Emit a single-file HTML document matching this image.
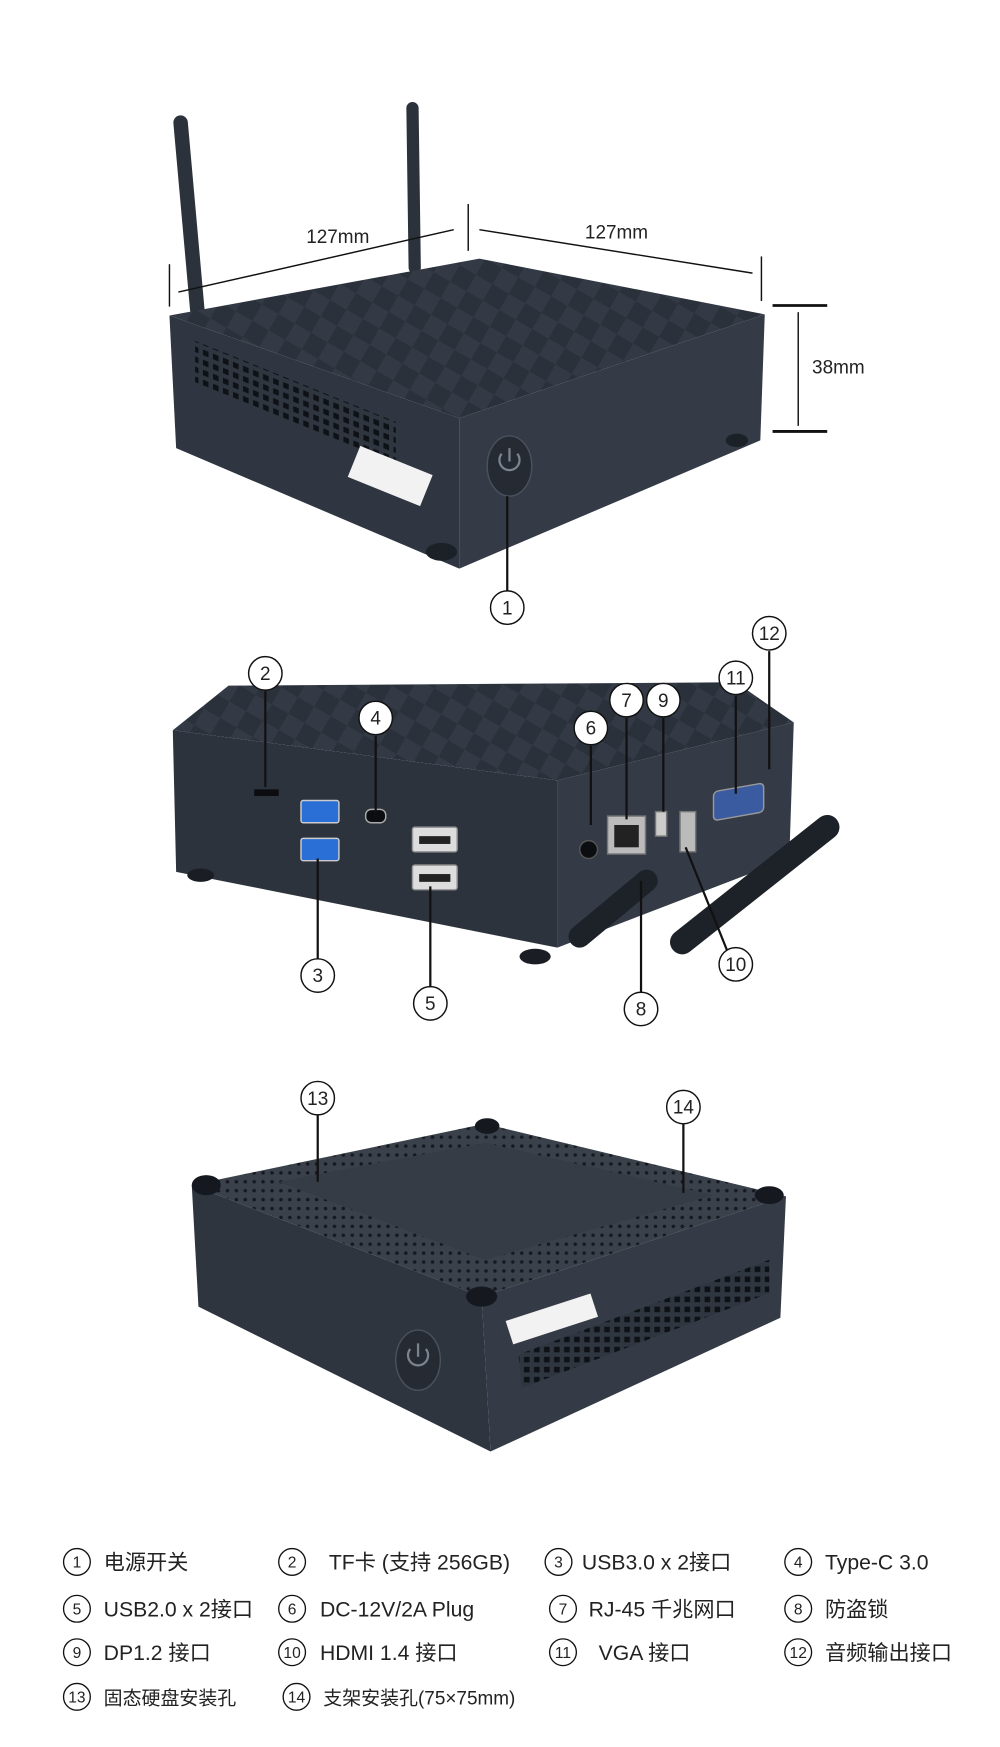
<!DOCTYPE html>
<html><head><meta charset="utf-8"><style>
html,body{margin:0;padding:0;background:#fff}
svg{display:block}
text{font-family:"Liberation Sans","Noto Sans CJK SC",sans-serif;fill:#222}
</style></head><body>
<svg width="1000" height="1747" viewBox="0 0 897 1567" preserveAspectRatio="none" xmlns="http://www.w3.org/2000/svg">
<defs>
<pattern id="diam" width="34" height="34" patternUnits="userSpaceOnUse" patternTransform="rotate(30)">
<rect width="34" height="34" fill="#333a45"/><rect width="17" height="17" fill="#2b313b"/><rect x="17" y="17" width="17" height="17" fill="#2b313b"/></pattern>
<pattern id="vent" width="9" height="9" patternUnits="userSpaceOnUse"><rect width="9" height="9" fill="#2f3640"/><rect x="2" y="2" width="5" height="5" fill="#0e1116"/></pattern>
<pattern id="dots" width="8" height="8" patternUnits="userSpaceOnUse"><rect width="8" height="8" fill="#3a414b"/><circle cx="4" cy="4" r="1.6" fill="#15191f"/></pattern>
</defs>
<g stroke="#111" fill="none" stroke-width="1.3">
<line x1="162" y1="110" x2="177" y2="278" stroke="#2c323b" stroke-width="13" stroke-linecap="round"/>
<line x1="370" y1="97" x2="372" y2="240" stroke="#2c323b" stroke-width="11" stroke-linecap="round"/>
<polygon points="152,283 430,232 686,282 412,375" fill="url(#diam)" stroke="none"/>
<polygon points="152,283 412,375 412,510 158,402" fill="#2f3641" stroke="none"/>
<polygon points="412,375 686,282 682,395 412,510" fill="#343b46" stroke="none"/>
<rect x="175" y="330" width="180" height="40" fill="url(#vent)" stroke="none" transform="skewY(22) translate(0,-95)"/>
<rect x="315" y="412" width="70" height="30" fill="#f2f2f2" stroke="none" transform="rotate(22 350 427)"/>
<ellipse cx="396" cy="495" rx="14" ry="8" fill="#1c2027" stroke="none"/>
<ellipse cx="661" cy="395" rx="10" ry="6" fill="#1c2027" stroke="none"/>
<ellipse cx="457" cy="418" rx="20" ry="27" fill="#262b33" stroke="#4a515c"/>
<path d="M450 407 a9 9 0 1 0 14 0 M457 402 v12" stroke="#7a838f" stroke-width="2"/>
<line x1="152" y1="237" x2="152" y2="275"/>
<line x1="160" y1="262" x2="407" y2="206"/>
<line x1="420" y1="183" x2="420" y2="225"/>
<line x1="430" y1="206" x2="675" y2="245"/>
<line x1="683" y1="230" x2="683" y2="270"/>
<line x1="693" y1="274" x2="742" y2="274" stroke-width="2.5"/>
<line x1="693" y1="387" x2="742" y2="387" stroke-width="2.5"/>
<line x1="716" y1="280" x2="716" y2="382"/>
<line x1="455" y1="445" x2="455" y2="530" stroke-width="2"/>
<circle cx="455" cy="545" r="15" fill="#fff"/>
<polygon points="155,655 205,615 660,612 712,648 500,700" fill="url(#diam)" stroke="none"/>
<polygon points="155,655 500,700 500,850 158,782" fill="#2d333d" stroke="none"/>
<polygon points="500,700 712,648 708,770 500,850" fill="#343b46" stroke="none"/>
<ellipse cx="180" cy="785" rx="12" ry="6" fill="#1a1e24" stroke="none"/>
<ellipse cx="480" cy="858" rx="14" ry="7" fill="#1a1e24" stroke="none"/>
<rect x="228" y="708" width="22" height="6" fill="#0b0d10" stroke="none"/>
<rect x="270" y="718" width="34" height="20" rx="2" fill="#2a6fd6" stroke="#ccc"/>
<rect x="270" y="752" width="34" height="20" rx="2" fill="#2a6fd6" stroke="#ccc"/>
<rect x="328" y="726" width="18" height="12" rx="5" fill="#0b0d10" stroke="#aaa"/>
<rect x="370" y="742" width="40" height="22" rx="2" fill="#ddd" stroke="#999"/>
<rect x="370" y="776" width="40" height="22" rx="2" fill="#ddd" stroke="#999"/>
<rect x="376" y="750" width="28" height="7" fill="#222" stroke="none"/>
<rect x="376" y="784" width="28" height="7" fill="#222" stroke="none"/>
<circle cx="528" cy="762" r="8" fill="#0b0d10" stroke="#555"/>
<rect x="545" y="732" width="34" height="34" fill="#bbb" stroke="#777"/>
<rect x="551" y="740" width="22" height="20" fill="#222" stroke="none"/>
<rect x="588" y="728" width="10" height="22" fill="#ccc" stroke="#777"/>
<rect x="610" y="728" width="14" height="36" fill="#bbb" stroke="#777"/>
<rect x="640" y="708" width="45" height="26" rx="4" fill="#3a5ba0" stroke="#999" transform="skewY(-10) translate(0,115)"/>
<line x1="520" y1="840" x2="580" y2="790" stroke="#1d2228" stroke-width="20" stroke-linecap="round"/>
<line x1="612" y1="845" x2="742" y2="742" stroke="#1d2228" stroke-width="22" stroke-linecap="round"/>
<line x1="238" y1="620" x2="238" y2="706" stroke-width="2"/><circle cx="238" cy="604" r="15" fill="#fff"/>
<line x1="337" y1="660" x2="337" y2="730" stroke-width="2"/><circle cx="337" cy="644" r="15" fill="#fff"/>
<line x1="285" y1="770" x2="285" y2="860" stroke-width="2"/><circle cx="285" cy="875" r="15" fill="#fff"/>
<line x1="386" y1="795" x2="386" y2="885" stroke-width="2"/><circle cx="386" cy="900" r="15" fill="#fff"/>
<line x1="530" y1="669" x2="530" y2="740" stroke-width="2"/><circle cx="530" cy="653" r="15" fill="#fff"/>
<line x1="562" y1="644" x2="562" y2="735" stroke-width="2"/><circle cx="562" cy="628" r="15" fill="#fff"/>
<line x1="595" y1="644" x2="595" y2="728" stroke-width="2"/><circle cx="595" cy="628" r="15" fill="#fff"/>
<line x1="660" y1="624" x2="660" y2="712" stroke-width="2"/><circle cx="660" cy="608" r="15" fill="#fff"/>
<line x1="690" y1="584" x2="690" y2="690" stroke-width="2"/><circle cx="690" cy="568" r="15" fill="#fff"/>
<line x1="615" y1="760" x2="652" y2="852" stroke-width="2"/><circle cx="660" cy="865" r="15" fill="#fff"/>
<line x1="575" y1="790" x2="575" y2="890" stroke-width="2"/><circle cx="575" cy="905" r="15" fill="#fff"/>
<polygon points="172,1063 435,1008 705,1073 432,1163" fill="url(#dots)" stroke="none"/>
<polygon points="250,1060 435,1025 640,1072 435,1130" fill="#353c46" stroke="none"/>
<polygon points="172,1063 432,1163 440,1302 178,1172" fill="#2e353f" stroke="none"/>
<polygon points="432,1163 705,1073 700,1182 440,1302" fill="#343b46" stroke="none"/>
<polygon points="465,1215 690,1130 690,1160 468,1245" fill="url(#vent)" stroke="none"/>
<rect x="455" y="1172" width="80" height="22" fill="#f2f2f2" stroke="none" transform="rotate(-18 495 1183)"/>
<ellipse cx="185" cy="1063" rx="13" ry="9" fill="#15191f" stroke="none"/>
<ellipse cx="437" cy="1010" rx="11" ry="7" fill="#15191f" stroke="none"/>
<ellipse cx="690" cy="1072" rx="13" ry="8" fill="#15191f" stroke="none"/>
<ellipse cx="432" cy="1163" rx="14" ry="9" fill="#15191f" stroke="none"/>
<ellipse cx="375" cy="1220" rx="20" ry="27" fill="#262b33" stroke="#4a515c"/>
<path d="M368 1210 a9 9 0 1 0 14 0 M375 1205 v12" stroke="#7a838f" stroke-width="2"/>
<line x1="285" y1="1000" x2="285" y2="1060" stroke-width="2"/><circle cx="285" cy="985" r="15" fill="#fff"/>
<line x1="613" y1="1008" x2="613" y2="1070" stroke-width="2"/><circle cx="613" cy="993" r="15" fill="#fff"/>
<g stroke-width="1.2">
<circle cx="69" cy="1401" r="12"/><circle cx="262" cy="1401" r="12"/><circle cx="501" cy="1401" r="12"/><circle cx="716" cy="1401" r="12"/>
<circle cx="69" cy="1443" r="12"/><circle cx="262" cy="1443" r="12"/><circle cx="505" cy="1443" r="12"/><circle cx="716" cy="1443" r="12"/>
<circle cx="69" cy="1482" r="12"/><circle cx="262" cy="1482" r="12"/><circle cx="505" cy="1482" r="12"/><circle cx="716" cy="1482" r="12"/>
<circle cx="69" cy="1522" r="12"/><circle cx="266" cy="1522" r="12"/>
</g>
</g>
<g font-size="17">
<text x="303" y="218" text-anchor="middle">127mm</text>
<text x="553" y="214" text-anchor="middle">127mm</text>
<text x="752" y="335" text-anchor="middle">38mm</text>
</g>
<g font-size="17" text-anchor="middle">
<text x="455" y="551">1</text><text x="238" y="610">2</text><text x="337" y="650">4</text><text x="285" y="881">3</text><text x="386" y="906">5</text><text x="530" y="659">6</text><text x="562" y="634">7</text><text x="595" y="634">9</text><text x="660" y="614">11</text><text x="690" y="574">12</text><text x="660" y="871">10</text><text x="575" y="911">8</text><text x="285" y="991">13</text><text x="613" y="999">14</text>
</g>
<g font-size="14" text-anchor="middle">
<text x="69" y="1406">1</text><text x="262" y="1406">2</text><text x="501" y="1406">3</text><text x="716" y="1406">4</text>
<text x="69" y="1448">5</text><text x="262" y="1448">6</text><text x="505" y="1448">7</text><text x="716" y="1448">8</text>
<text x="69" y="1487">9</text><text x="262" y="1487">10</text><text x="505" y="1487">11</text><text x="716" y="1487">12</text>
<text x="69" y="1527">13</text><text x="266" y="1527">14</text>
</g>
<g font-size="19">
<text x="93" y="1408">电源开关</text><text x="295" y="1408">TF卡 (支持 256GB)</text><text x="522" y="1408">USB3.0 x 2接口</text><text x="740" y="1408">Type-C 3.0</text>
<text x="93" y="1450">USB2.0 x 2接口</text><text x="287" y="1450">DC-12V/2A Plug</text><text x="528" y="1450">RJ-45 千兆网口</text><text x="740" y="1450">防盗锁</text>
<text x="93" y="1489">DP1.2  接口</text><text x="287" y="1489">HDMI 1.4 接口</text><text x="537" y="1489">VGA 接口</text><text x="740" y="1489">音频输出接口</text>
</g>
<g font-size="17">
<text x="93" y="1529">固态硬盘安装孔</text><text x="290" y="1529">支架安装孔(75×75mm)</text>
</g>
</svg>
</body></html>
